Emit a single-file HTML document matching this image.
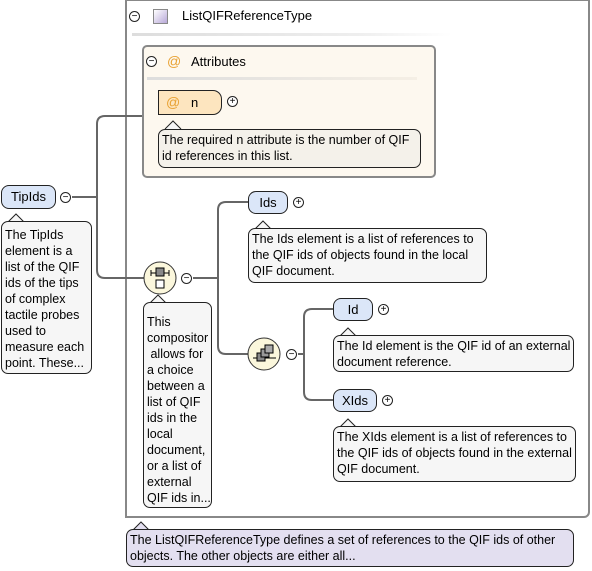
<!DOCTYPE html>
<html><head><meta charset="utf-8"><style>
body{margin:0;width:592px;height:571px;position:relative;background:#fff;font-family:"Liberation Sans",sans-serif;font-size:12px;color:#000;overflow:hidden}
.a{position:absolute;box-sizing:border-box}
.el{position:absolute;box-sizing:border-box;background:#dbe6f8;border:1px solid #222;border-radius:8px;font-size:13px;text-align:center;line-height:21px}
.note{position:absolute;box-sizing:border-box;background:#f6f6f6;border:1px solid #222;border-radius:7px;padding:2px 3px 1px;line-height:16px;font-size:12.5px;white-space:nowrap;overflow:hidden}
.pm{position:absolute;width:11px;height:11px;border:1px solid #222;border-radius:50%;box-sizing:border-box;background:#fff;font-size:10px;line-height:9px;text-align:center}
</style></head><body>
<div class="a" style="left:125px;top:0;width:465px;height:518px;border:2px solid #888;border-top-width:1px;border-radius:0 0 6px 0"></div>
<div class="a" style="left:132px;top:33px;width:320px;height:3px;background:linear-gradient(90deg,#ddd,#eee 70%,#fff)"></div>
<div class="pm" style="left:129px;top:11px">−</div>
<div class="a" style="left:153px;top:9px;width:15px;height:15px;border:1px solid #888;background:linear-gradient(135deg,#fff,#b8a8d8)"></div>
<div class="a" style="left:182px;top:8px;font-size:13px">ListQIFReferenceType</div>

<div class="a" style="left:142px;top:45px;width:294px;height:133px;background:#fdf8ef;border:2px solid #888;border-radius:5px"></div>
<div class="a" style="left:147px;top:77px;width:270px;height:3px;background:linear-gradient(90deg,#ddd,#f5efe5)"></div>
<div class="pm" style="left:146px;top:56px">−</div>
<div class="a" style="left:167px;top:53px;color:#e8a030;font-size:14px">@</div>
<div class="a" style="left:191px;top:54px;font-size:13px">Attributes</div>
<div class="a" style="left:158px;top:90px;width:64px;height:25px;background:#fde5bf;border:1px solid #222;border-radius:0 9px 9px 0"></div>
<div class="a" style="left:166px;top:94px;color:#e8a030;font-size:14px">@</div>
<div class="a" style="left:191px;top:95px;font-size:13px">n</div>
<div class="pm" style="left:227px;top:96px">+</div>
<div class="note" style="left:158px;top:129px;width:263px;height:39px;background:#f4f1ea">The required n attribute is the number of QIF<br>id references in this list.</div>

<svg class="a" style="left:0;top:0" width="592" height="571">
<g fill="none" stroke="#666" stroke-width="2">
<path d="M72 197 H97 V124 Q97 116 105 116 H142"/>
<path d="M97 197 V270 Q97 278 105 278 H144"/>
<path d="M193 278 H218 V210 Q218 202 226 202 H248"/>
<path d="M218 278 V346 Q218 354 226 354 H248"/>
<path d="M298 354 H304 V317 Q304 309 312 309 H333"/>
<path d="M304 354 V392 Q304 400 312 400 H333"/>
</g>
<circle cx="160" cy="278" r="16" fill="#fbf7dc" stroke="#333"/>
<g stroke="#000" fill="none"><path d="M151 273 H169 M151 270 V276 M169 270 V276"/><rect x="156" y="268" width="8" height="8" fill="#888"/><rect x="156" y="280" width="8" height="8" fill="#fff"/></g>
<circle cx="264" cy="354" r="16" fill="#fbf7dc" stroke="#333"/>
<g stroke="#000"><path d="M253 358 H276" /><rect x="257" y="353" width="8" height="8" fill="#888"/><rect x="261" y="349" width="8" height="8" fill="#999"/><rect x="265" y="345" width="8" height="8" fill="#aaa"/></g>
<g fill="#f6f6f6" stroke="#222"><path d="M8 222 L16 214 L24 222"/><path d="M150 303 L158 295 L166 303"/><path d="M255 229 L263 221 L271 229"/><path d="M340 336 L348 328 L356 336"/><path d="M340 427 L348 419 L356 427"/><path d="M165 129 L173 121 L181 129"/></g>
<path d="M133 530 L141 522 L149 530" fill="#e3dff0" stroke="#222"/>
</svg>

<div class="el" style="left:1px;top:185px;width:55px;height:24px;line-height:22px">TipIds</div>
<div class="pm" style="left:60px;top:192px">−</div>
<div class="note" style="left:1px;top:221px;width:91px;height:153px;padding-top:5px">The TipIds<br>element is a<br>list of the QIF<br>ids of the tips<br>of complex<br>tactile probes<br>used to<br>measure each<br>point. These...</div>
<div class="pm" style="left:181px;top:273px">−</div>
<div class="note" style="left:143px;top:302px;width:69px;height:206px;padding-top:11px">This<br>compositor<br>&nbsp;allows for<br>a choice<br>between a<br>list of QIF<br>ids in the<br>local<br>document,<br>or a list of<br>external<br>QIF ids in...</div>
<div class="el" style="left:248px;top:191px;width:40px;height:23px">Ids</div>
<div class="pm" style="left:293px;top:197px">+</div>
<div class="note" style="left:248px;top:228px;width:239px;height:55px">The Ids element is a list of references to<br>the QIF ids of objects found in the local<br>QIF document.</div>
<div class="pm" style="left:286px;top:349px">−</div>
<div class="el" style="left:333px;top:298px;width:40px;height:23px">Id</div>
<div class="pm" style="left:378px;top:304px">+</div>
<div class="note" style="left:333px;top:335px;width:241px;height:37px">The Id element is the QIF id of an external<br>document reference.</div>
<div class="el" style="left:333px;top:389px;width:44px;height:23px">XIds</div>
<div class="pm" style="left:382px;top:395px">+</div>
<div class="note" style="left:333px;top:426px;width:243px;height:56px">The XIds element is a list of references to<br>the QIF ids of objects found in the external<br>QIF document.</div>
<div class="note" style="left:126px;top:529px;width:448px;height:38px;background:#e3dff0">The ListQIFReferenceType defines a set of references to the QIF ids of other<br>objects. The other objects are either all...</div>
</body></html>
